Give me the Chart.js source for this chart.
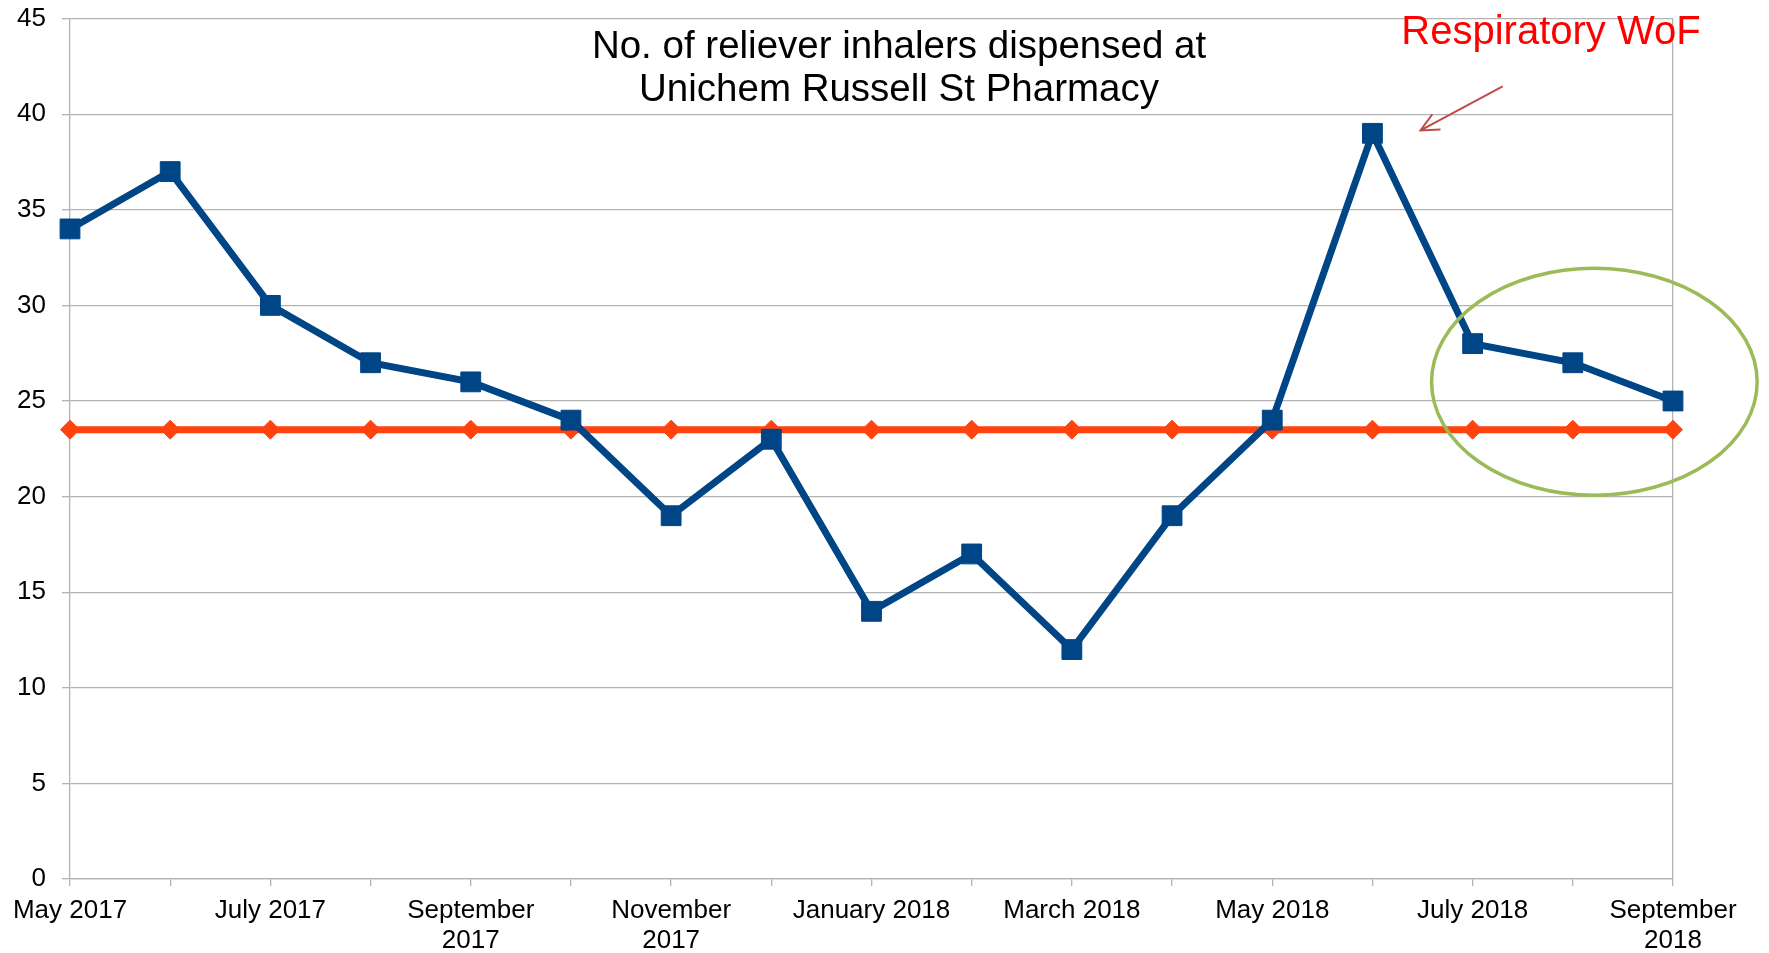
<!DOCTYPE html>
<html>
<head>
<meta charset="utf-8">
<script src="https://cdn.jsdelivr.net/npm/chart.js@4.4.1/dist/chart.umd.min.js"></script>
<style>
  html, body { margin: 0; padding: 0; background: #fff; }
  #wrap { width: 1769px; height: 953px; }
</style>
</head>
<body>
<div id="wrap"><canvas id="inhalers" width="1769" height="953"></canvas></div>
<script>
// months on the x axis
const months = [
  'May 2017', 'June 2017', 'July 2017', 'August 2017', 'September 2017',
  'October 2017', 'November 2017', 'December 2017', 'January 2018',
  'February 2018', 'March 2018', 'April 2018', 'May 2018', 'June 2018',
  'July 2018', 'August 2018', 'September 2018'
];
// only every second month gets a label
const tickLabels = [
  'May 2017', '', 'July 2017', '', ['September', '2017'], '',
  ['November', '2017'], '', 'January 2018', '', 'March 2018', '',
  'May 2018', '', 'July 2018', '', ['September', '2018']
];
const dispensed = [34, 37, 30, 27, 26, 24, 19, 23, 14, 17, 12, 19, 24, 39, 28, 27, 25];
const average = [23.5, 23.5, 23.5, 23.5, 23.5, 23.5, 23.5, 23.5, 23.5, 23.5, 23.5, 23.5, 23.5, 23.5, 23.5, 23.5, 23.5];
const yTicks = [0, 5, 10, 15, 20, 25, 30, 35, 40, 45];

const titleLines = ['No. of reliever inhalers dispensed at', 'Unichem Russell St Pharmacy'];
const noteText = 'Respiratory WoF';

const gridGrey = '#b3b3b3';
const font = 'Liberation Sans, Arial, sans-serif';

// title, note, arrow and ellipse drawn on top of the chart
const annotations = {
  id: 'annotations',
  afterDatasetsDraw(chart) {
    const { ctx, scales: { x, y } } = chart;
    ctx.save();

    // ellipse around the last three months
    const left = x.getPixelForValue(13.59), right = x.getPixelForValue(16.84);
    const top = y.getPixelForValue(31.94), bottom = y.getPixelForValue(20.07);
    ctx.beginPath();
    ctx.ellipse((left + right) / 2, (top + bottom) / 2, (right - left) / 2, (bottom - top) / 2, 0, 0, Math.PI * 2);
    ctx.strokeStyle = '#9bbb59';
    ctx.lineWidth = 3.5;
    ctx.stroke();

    // arrow pointing at the June peak
    const x1 = x.getPixelForValue(14.30), y1 = y.getPixelForValue(41.45);
    const x2 = x.getPixelForValue(13.48), y2 = y.getPixelForValue(39.15);
    const ang = Math.atan2(y2 - y1, x2 - x1);
    ctx.strokeStyle = '#be4b48';
    ctx.lineWidth = 2;
    ctx.beginPath();
    ctx.moveTo(x1, y1);
    ctx.lineTo(x2, y2);
    ctx.moveTo(x2 - 20 * Math.cos(ang - 0.45), y2 - 20 * Math.sin(ang - 0.45));
    ctx.lineTo(x2, y2);
    ctx.lineTo(x2 - 20 * Math.cos(ang + 0.45), y2 - 20 * Math.sin(ang + 0.45));
    ctx.stroke();

    ctx.textAlign = 'center';
    ctx.textBaseline = 'alphabetic';

    // red note
    ctx.fillStyle = '#ff0000';
    ctx.font = '40px ' + font;
    ctx.fillText(noteText, 1551, 44);

    // title inside the plot
    ctx.fillStyle = '#000';
    ctx.font = '38.5px ' + font;
    ctx.fillText(titleLines[0], 899, 58);
    ctx.fillText(titleLines[1], 899, 101);

    ctx.restore();
  }
};

new Chart(document.getElementById('inhalers'), {
  type: 'line',
  data: {
    labels: months,
    datasets: [{
      label: 'Inhalers dispensed',
      data: dispensed,
      borderColor: '#004586',
      backgroundColor: '#004586',
      borderWidth: 7,
      tension: 0,
      pointStyle: 'rect',
      pointRadius: 14,
      pointBorderWidth: 1,
      pointBorderColor: '#004586',
      pointBackgroundColor: '#004586',
      order: 1
    }, {
      label: 'Average',
      data: average,
      borderColor: '#ff420e',
      backgroundColor: '#ff420e',
      borderWidth: 7,
      tension: 0,
      pointStyle: 'rectRot',
      pointRadius: 9.5,
      pointBorderWidth: 1,
      pointBorderColor: '#ff420e',
      pointBackgroundColor: '#ff420e',
      order: 2
    }]
  },
  options: {
    responsive: false,
    animation: false,
    layout: { padding: { top: 18, right: 96, left: 0, bottom: 0 } },
    plugins: {
      legend: { display: false },
      tooltip: { enabled: false },
      title: { display: false }
    },
    scales: {
      x: {
        offset: false,
        grid: {
          display: true,
          drawOnChartArea: true,
          color: c => c.index === months.length - 1 ? gridGrey : 'rgba(0,0,0,0)',
          tickColor: gridGrey,
          tickLength: 7,
          lineWidth: 1.3
        },
        border: { display: true, color: gridGrey, width: 1.3 },
        ticks: {
          autoSkip: false,
          maxRotation: 0,
          minRotation: 0,
          padding: 10,
          color: '#000',
          font: { family: font, size: 26, lineHeight: 1.15 },
          callback: (v, i) => tickLabels[i]
        },
        afterFit: s => { s.height = 74; }
      },
      y: {
        min: 0,
        max: 45,
        afterBuildTicks: s => { s.ticks = yTicks.map(v => ({ value: v })); },
        grid: {
          color: gridGrey,
          tickColor: gridGrey,
          tickLength: 8,
          lineWidth: 1.3
        },
        border: { display: true, color: gridGrey, width: 1.3 },
        ticks: {
          padding: 16,
          color: '#000',
          font: { family: font, size: 26, lineHeight: 0.2 }
        },
        afterFit: s => { s.width = 70; }
      }
    }
  },
  plugins: [annotations]
});
</script>
</body>
</html>
